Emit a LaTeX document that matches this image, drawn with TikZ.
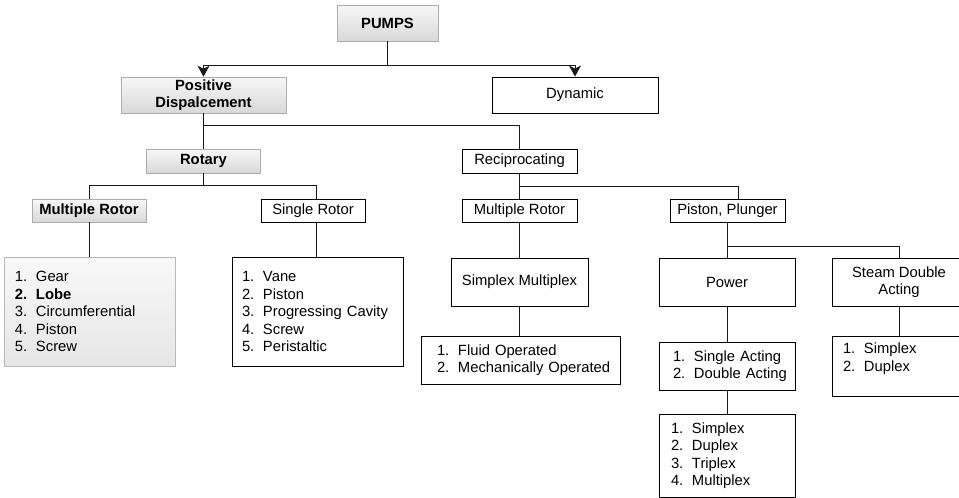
\documentclass[tikz,border=0pt]{standalone}
\usepackage{fontspec}
\setmainfont{Liberation Sans}
\usetikzlibrary{arrows.meta}
\newcommand{\li}[3]{\hspace*{#1pt}\makebox[21pt][l]{#2}#3}
\begin{document}
\begin{tikzpicture}[x=1pt,y=-1pt,
  every node/.style={font=\fontsize{14.8}{17.5}\selectfont, inner sep=0pt},
  box/.style={draw=black, line width=0.8pt, fill=white, align=center},
  gbox/.style={draw=gray!65, line width=0.6pt, top color=gray!6, bottom color=gray!30, align=center,
     font=\fontsize{14.8}{17.5}\selectfont\bfseries},
  lbox/.style={draw=gray!55, line width=0.6pt, top color=gray!5, bottom color=gray!20},
  lst/.style={align=left, inner xsep=0pt, text width=#1pt, minimum width=#1pt},
  conn/.style={line width=1pt, draw=black!90},
  arr/.style={conn, -{Stealth[length=11pt,width=12pt,inset=3pt]}}]
\useasboundingbox (0,0) rectangle (959,498);
\clip (0,0) rectangle (959,498);

% level 0
\node[gbox, minimum width=101pt, minimum height=36pt] (pumps) at (387.5,23) {PUMPS};
% level 1
\node[gbox, minimum width=165pt, minimum height=36pt] (pd) at (203.5,95) {Positive\\Dispalcement};
\node[box, minimum width=166pt, minimum height=36pt] (dyn) at (575,95) {Dynamic};
% level 2
\node[gbox, minimum width=114pt, minimum height=24pt] (rotary) at (203.5,161) {Rotary};
\node[box, minimum width=115pt, minimum height=24pt] (recip) at (519.5,161) {Reciprocating};
% level 3
\node[gbox, minimum width=114pt, minimum height=23pt] (mr1) at (89,210.5) {Multiple Rotor};
\node[box, minimum width=104pt, minimum height=23pt] (sr) at (313,210.5) {Single Rotor};
\node[box, minimum width=115pt, minimum height=23pt] (mr2) at (519.5,210.5) {Multiple Rotor};
\node[box, minimum width=115pt, minimum height=23pt] (pp) at (727.5,210.5) {Piston, Plunger};
% lists of rotary
\node[lbox, lst=171, minimum height=109pt] (list1) at (89.5,311.5)
  {\li{11}{1.}{Gear}\\\textbf{\li{11}{2.}{Lobe}}\\\li{11}{3.}{Circumferential}\\\li{11}{4.}{Piston}\\\li{11}{5.}{Screw}};
\node[box, lst=171, minimum height=109pt] (list2) at (317.5,311.5)
  {\li{10}{1.}{Vane}\\\li{10}{2.}{Piston}\\\li{10}{3.}{Progressing Cavity}\\\li{10}{4.}{Screw}\\\li{10}{5.}{Peristaltic}};
% level 4 reciprocating
\node[box, minimum width=137pt, minimum height=48pt] (sm) at (519.5,282) {Simplex Multiplex};
\node[box, minimum width=136pt, minimum height=48pt] (power) at (727,282) {Power};
\node[box, minimum width=134pt, minimum height=48pt] (steam) at (899,282) {Steam Double\\Acting};
% level 5
\node[box, lst=199, minimum height=48pt] (fluid) at (520.5,360)
  {\li{16}{1.}{Fluid Operated}\\\li{16}{2.}{Mechanically Operated}};
\node[box, lst=136, minimum height=48pt] (acting) at (727,366)
  {\li{14}{1.}{Single Acting}\\\li{14}{2.}{Double Acting}};
\node[box, lst=134, minimum height=60pt] (steamlist) at (899,366)
  {\li{11}{1.}{Simplex}\\\li{11}{2.}{Duplex}\\\mbox{}};
% level 6
\node[box, lst=136, minimum height=83pt] (plex) at (727,455.5)
  {\li{12}{1.}{Simplex}\\\li{12}{2.}{Duplex}\\\li{12}{3.}{Triplex}\\\li{12}{4.}{Multiplex}};

% junctions
\coordinate (j1) at (387.5,65);
\coordinate (j2) at (203.5,125);
\coordinate (j3) at (203.5,185.5);
\coordinate (j4) at (519.5,186);
\coordinate (j5) at (727,246);

% connectors
\draw[conn] (pumps.south) -- (j1);
\draw[arr] (j1) -| (pd.north);
\draw[arr] (j1) -| (dyn.north);
\draw[conn] (pd.south) -- (rotary.north);
\draw[conn] (j2) -| (recip.north);
\draw[conn] (rotary.south) -- (j3);
\draw[conn] (j3) -| (mr1.north);
\draw[conn] (j3) -| ([xshift=3pt]sr.north);
\draw[conn] (mr1.south) -- (mr1.south |- list1.north);
\draw[conn] ([xshift=3pt]sr.south) -- ([xshift=3pt]sr.south |- list2.north);
\draw[conn] (recip.south) -- (mr2.north);
\draw[conn] (j4) -| ([xshift=10.5pt]pp.north);
\draw[conn] (mr2.south) -- (sm.north);
\draw[conn] (sm.south) -- (sm.south |- fluid.north);
\draw[conn] (pp.south -| power.north) -- (power.north);
\draw[conn] (j5) -| (steam.north);
\draw[conn] (power.south) -- (acting.north);
\draw[conn] (acting.south) -- (plex.north);
\draw[conn] (steam.south) -- (steamlist.north);
\end{tikzpicture}
\end{document}
